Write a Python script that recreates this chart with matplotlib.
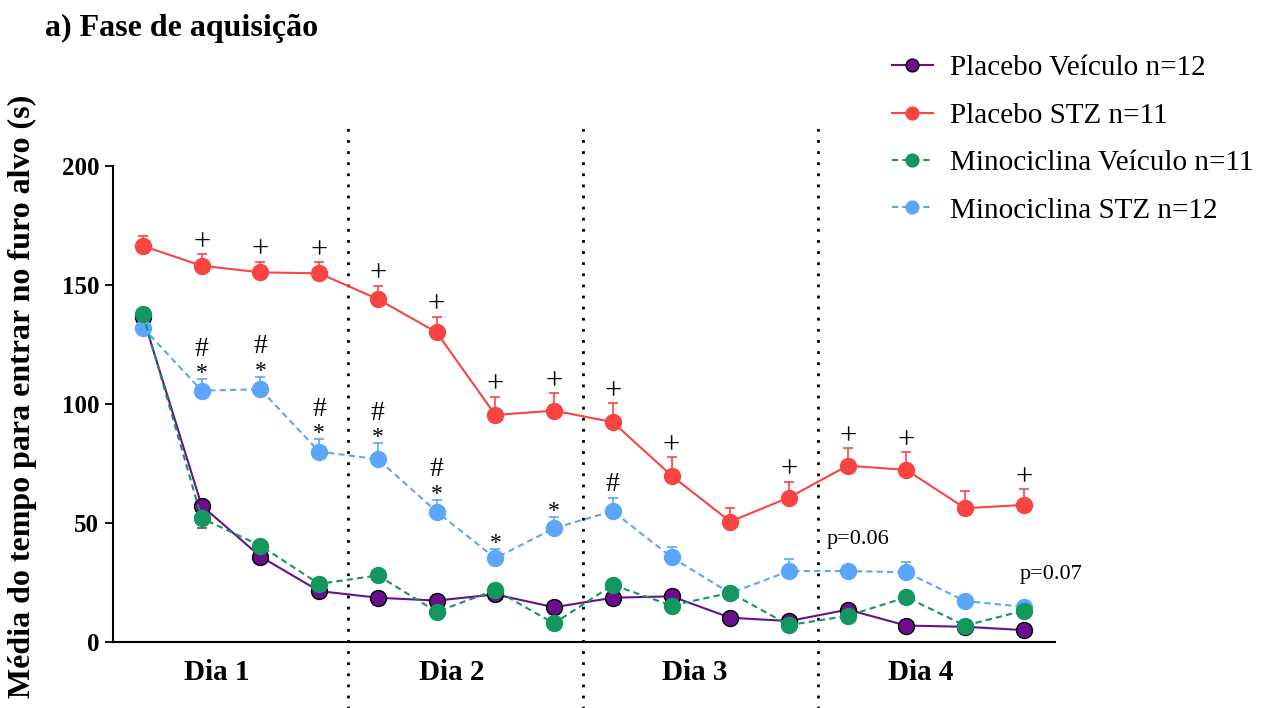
import numpy as np
import matplotlib.pyplot as plt

plt.rcParams['font.family'] = ['Liberation Serif', 'DejaVu Serif']

# 16 trials, 4 per day
trials = np.arange(1, 17)

placebo_veiculo = [136.5, 57.3, 35.9, 21.4, 18.6, 17.4, 20.0, 14.6, 18.6, 19.2, 10.2, 8.8, 13.6, 6.9, 6.4, 5.0]
placebo_veiculo_err = [5.0, 2.5, 2.0, 1.5, 1.5, 1.5, 1.5, 1.5, 1.5, 1.5, 1.5, 1.0, 1.5, 1.0, 1.0, 1.0]

placebo_stz = [166.4, 158.1, 155.3, 154.9, 144.1, 130.1, 95.4, 97.2, 92.4, 69.9, 50.6, 60.7, 74.1, 72.3, 56.2, 57.6]
placebo_stz_err = [4.0, 4.9, 4.5, 4.6, 5.6, 6.6, 7.7, 7.3, 7.9, 7.7, 5.9, 6.7, 7.3, 7.4, 7.2, 6.6]

mino_veiculo = [137.7, 52.0, 40.5, 24.4, 28.0, 12.7, 21.8, 7.8, 24.0, 15.3, 20.7, 7.1, 11.0, 18.8, 6.9, 13.2]
mino_veiculo_err = [2.0, 4.0, 2.0, 1.5, 1.5, 1.5, 1.5, 1.5, 1.5, 1.5, 1.5, 1.0, 1.5, 1.5, 1.0, 1.0]

mino_stz = [132.1, 105.6, 106.2, 80.0, 76.8, 54.8, 35.2, 47.8, 55.0, 35.6, 20.5, 29.8, 29.8, 29.3, 17.2, 14.8]
mino_stz_err = [2.0, 4.8, 5.3, 5.2, 6.7, 4.9, 3.9, 4.9, 5.4, 4.4, 2.0, 4.9, 2.0, 4.4, 2.0, 2.0]

labels = ['Placebo Veículo n=12', 'Placebo STZ n=11',
          'Minociclina Veículo n=11', 'Minociclina STZ n=12']

# significance marks
plus_trials = [2, 3, 4, 5, 6, 7, 8, 9, 10, 12, 13, 14, 16]
star_trials = [2, 3, 4, 5, 6, 7, 8]
hash_trials = [2, 3, 4, 5, 6, 9]

day_labels = ['Dia 1', 'Dia 2', 'Dia 3', 'Dia 4']
day_label_pos = [2.25, 6.25, 10.4, 14.25]
day_breaks = [4.5, 8.5, 12.5]

purple = '#6b0f8f'
red = '#fa4444'
green = '#13975f'
blue = '#5ba6fb'

fig = plt.figure(figsize=(12.7, 7.08), dpi=100)
ax = fig.add_axes([113 / 1270, 1 - 642 / 708, (1055 - 113) / 1270, (642 - 166) / 708])

ms = 11.5
dash = (3, 2)

# purple
ax.errorbar(trials, placebo_veiculo, yerr=[placebo_veiculo_err, [0] * 16], fmt='none',
            ecolor='#333333', elinewidth=1.2, capsize=3.5, capthick=1.2, zorder=2)
l1, = ax.plot(trials, placebo_veiculo, '-', color=purple, lw=1.5, marker='o', ms=ms,
              mfc=purple, mec='black', mew=1.0, zorder=3)

# blue
ax.errorbar(trials, mino_stz, yerr=[[0] * 16, mino_stz_err], fmt='none',
            ecolor=blue, elinewidth=1.2, capsize=3.5, capthick=1.2, zorder=2)
l4, = ax.plot(trials, mino_stz, color=blue, lw=1.5, dashes=dash, marker='o', ms=ms,
              mfc=blue, mec=blue, zorder=3)

# green
ax.errorbar(trials, mino_veiculo, yerr=[mino_veiculo_err, [0] * 16], fmt='none',
            ecolor='#555555', elinewidth=1.2, capsize=3.5, capthick=1.2, zorder=2)
l3, = ax.plot(trials, mino_veiculo, color=green, lw=1.5, dashes=dash, marker='o', ms=ms,
              mfc=green, mec=green, zorder=4)

# red
ax.errorbar(trials, placebo_stz, yerr=[[0] * 16, placebo_stz_err], fmt='none',
            ecolor=red, elinewidth=1.2, capsize=3.5, capthick=1.2, zorder=2)
l2, = ax.plot(trials, placebo_stz, '-', color=red, lw=1.5, marker='o', ms=ms,
              mfc=red, mec=red, zorder=5)

# day separators (run below the axis)
for xb in day_breaks:
    ax.axvline(xb, ymin=-0.14, ymax=1.085, color='black', lw=2.0, dashes=(1, 3),
               clip_on=False, zorder=1)

# marks above the STZ groups
for t in plus_trials:
    top = placebo_stz[t - 1] + placebo_stz_err[t - 1]
    ax.annotate('+', (t, top), xytext=(0, 3), textcoords='offset points',
                ha='center', va='baseline', fontsize=22)
for t in star_trials:
    top = mino_stz[t - 1] + mino_stz_err[t - 1]
    ax.annotate('*', (t, top), xytext=(0, 0), textcoords='offset points',
                ha='center', va='baseline', fontsize=17)
for t in hash_trials:
    top = mino_stz[t - 1] + mino_stz_err[t - 1]
    off = 17 if t in star_trials else 5
    ax.annotate('#', (t, top), xytext=(0, off), textcoords='offset points',
                ha='center', va='baseline', fontsize=20)

ax.text(12.65, 42.9, 'p=0.06', ha='left', va='center', fontsize=16)
ax.text(15.93, 28.2, 'p=0.07', ha='left', va='center', fontsize=16)

ax.set_xlim(0.49, 16.53)
ax.set_ylim(0, 200)
ax.set_yticks([0, 50, 100, 150, 200])
ax.set_xticks(day_label_pos)
ax.set_xticklabels(day_labels, fontsize=21, fontweight='bold')
ax.tick_params(axis='x', length=0, pad=12)
ax.tick_params(axis='y', direction='out', length=6, width=1.3, labelsize=18, pad=4)
for lab in ax.get_yticklabels():
    lab.set_fontweight('bold')

for s in ['top', 'right']:
    ax.spines[s].set_visible(False)
for s in ['left', 'bottom']:
    ax.spines[s].set_linewidth(1.5)

fig.text(22 / 1270, 1 - 95 / 708, 'Média do tempo para entrar no furo alvo (s)',
         rotation=90, ha='center', va='top', fontsize=23, fontweight='bold')
fig.text(45 / 1270, 1 - 28 / 708, 'a) Fase de aquisição', ha='left', va='center',
         fontsize=23, fontweight='bold')

fig.legend([l1, l2, l3, l4], labels, loc='upper left',
           bbox_to_anchor=(892 / 1270, 1 - 55 / 708), frameon=False,
           fontsize=21, markerscale=0.8, handlelength=1.4, handletextpad=0.6,
           labelspacing=0.72, borderpad=0, borderaxespad=0)

fig.savefig('out.png', dpi=100)
